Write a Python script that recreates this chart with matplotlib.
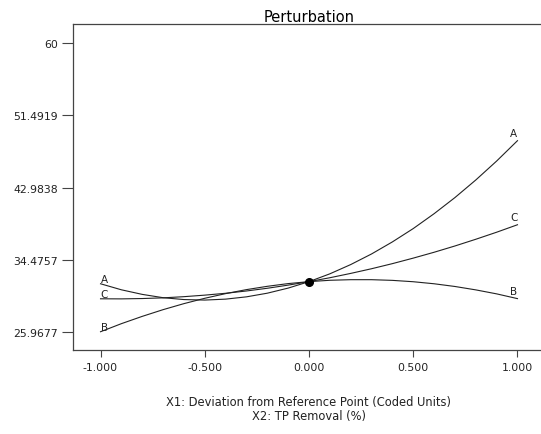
import matplotlib
matplotlib.use('Agg')
import matplotlib.pyplot as plt

plt.rcParams['font.family'] = ['DejaVu Sans']

# deviation from reference point (coded units)
dev = [-1.0, -0.9, -0.8, -0.7, -0.6, -0.5, -0.4, -0.3, -0.2, -0.1, 0.0,
       0.1, 0.2, 0.3, 0.4, 0.5, 0.6, 0.7, 0.8, 0.9, 1.0]

# TP removal (%) along each factor
resp_A = [31.65, 30.94, 30.40, 30.01, 29.79, 29.73, 29.84, 30.11, 30.54, 31.14, 31.90,
          32.82, 33.91, 35.16, 36.58, 38.15, 39.90, 41.80, 43.87, 46.10, 48.50]
resp_B = [26.00, 26.95, 27.81, 28.60, 29.31, 29.94, 30.49, 30.96, 31.35, 31.67, 31.90,
          32.06, 32.13, 32.13, 32.05, 31.89, 31.65, 31.33, 30.93, 30.46, 29.90]
resp_C = [29.88, 29.87, 29.91, 29.99, 30.13, 30.31, 30.53, 30.80, 31.12, 31.49, 31.90,
          32.36, 32.87, 33.42, 34.02, 34.67, 35.36, 36.10, 36.89, 37.72, 38.60]

ref_x = 0.0
ref_y = 31.90

yticks = [25.9677, 34.4757, 42.9838, 51.4919, 60]
ytick_labels = ['25.9677', '34.4757', '42.9838', '51.4919', '60']
xticks = [-1.0, -0.5, 0.0, 0.5, 1.0]
xtick_labels = ['-1.000', '-0.500', '0.000', '0.500', '1.000']

fig = plt.figure(figsize=(5.41, 4.35), dpi=100)
ax = fig.add_axes([73/541, 84/435, 472/541, 326/435])

curves = {'A': resp_A, 'B': resp_B, 'C': resp_C}
for name, vals in curves.items():
    ax.plot(dev, vals, color='#222222', lw=0.8)
    ax.annotate(name, (dev[0], vals[0]), xytext=(0, 0), textcoords='offset points',
                ha='left', va='bottom', fontsize=7.5, color='#222222')
    ax.annotate(name, (dev[-1], vals[-1]), xytext=(0, 2), textcoords='offset points',
                ha='right', va='bottom', fontsize=7.5, color='#222222')

ax.plot([ref_x], [ref_y], 'o', color='black', ms=5.5)

ax.set_xlim(-1.132, 1.132)
ax.set_ylim(23.85, 62.24)
ax.set_xticks(xticks)
ax.set_xticklabels(xtick_labels)
ax.set_yticks(yticks)
ax.set_yticklabels(ytick_labels)

ax.tick_params(axis='x', direction='out', length=5, width=0.8, labelsize=7.8,
               color='#444444', labelcolor='#222222', pad=4)
ax.tick_params(axis='y', direction='out', length=8, width=0.8, labelsize=7.8,
               color='#444444', labelcolor='#222222', pad=3)
for s in ax.spines.values():
    s.set_color('#444444')
    s.set_linewidth(0.9)

ax.set_title('Perturbation', fontsize=10.5, pad=2)
ax.set_xlabel('X1: Deviation from Reference Point (Coded Units)\nX2: TP Removal (%)',
              fontsize=8.3, labelpad=16, linespacing=1.1, color='#222222')

fig.savefig('out.png', dpi=100)
